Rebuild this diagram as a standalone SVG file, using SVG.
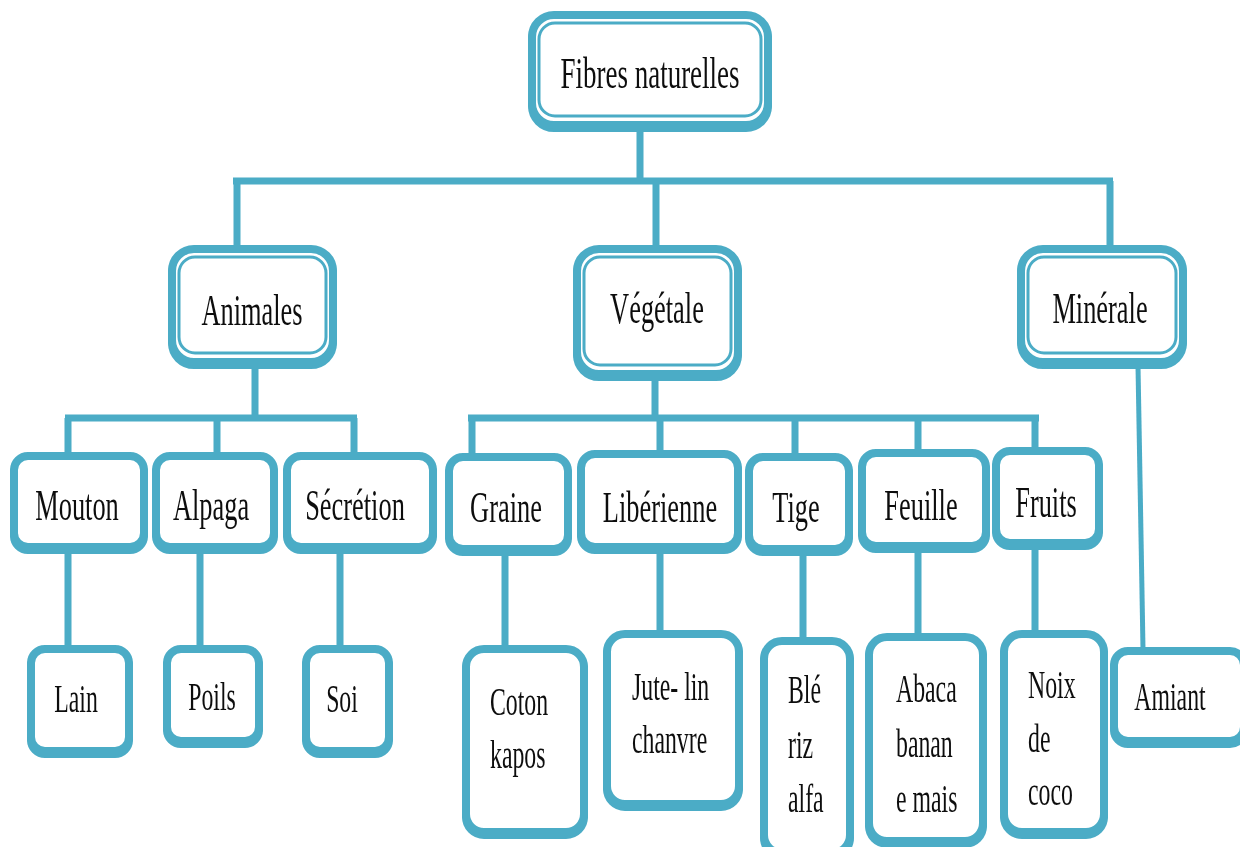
<svg xmlns="http://www.w3.org/2000/svg" width="1240" height="847" viewBox="0 0 1240 847">
<style>
.bx{fill:#fff;stroke:#4BACC6;stroke-width:8}
.ob{fill:#fff;stroke:#4BACC6;stroke-width:8}
.ib{fill:none;stroke:#4BACC6;stroke-width:3}
.ln{fill:none;stroke:#4BACC6;stroke-width:7;stroke-linecap:butt}
.ln2{fill:none;stroke:#4BACC6;stroke-width:5}
text{font-family:"Liberation Serif","Times New Roman",serif;fill:#111}
.t1{font-size:45px;text-anchor:middle}
.t2{font-size:44px;text-anchor:middle}
.t3{font-size:41px;text-anchor:middle}
.t3l{font-size:41px;text-anchor:start}
</style>
<defs>
<filter id="sh" x="-10%" y="-10%" width="120%" height="130%">
<feOffset in="SourceGraphic" dx="0" dy="3" result="o"/>
<feMerge><feMergeNode in="o"/><feMergeNode in="SourceGraphic"/></feMerge>
</filter>
</defs>

<g id="connectors">
<path class="ln" d="M640 128V181M233 181H1113M237 181V247M656 181V247M1110 181V247"/>
<path class="ln" d="M255 366V418M65 418H357M68 418V454M217 418V454M354 418V454"/>
<path class="ln" d="M655 378V418M468 418H1039M472 418V455M660 418V452M795 418V455M918 418V451M1035 418V449"/>
<path class="ln2" d="M1138 366L1143 649"/>
<path class="ln" d="M68 551V647M200 551V647M340 551V647M505 553V647M660 551V632M803 553V639M918 550V635M1035 546V632"/>
</g>

<g id="root" filter="url(#sh)">
<rect class="ob" x="532" y="15" width="236" height="110" rx="22"/>
<rect class="ib" x="539" y="23" width="222" height="93" rx="16"/>
<text class="t1" transform="translate(650,88) scale(0.6,1)">Fibres naturelles</text>
</g>

<g id="animales" filter="url(#sh)">
<rect class="ob" x="172" y="249" width="161" height="113" rx="22"/>
<rect class="ib" x="179" y="257" width="147" height="96" rx="16"/>
<text class="t2" transform="translate(252,325) scale(0.6,1)">Animales</text>
</g>
<g id="vegetale" filter="url(#sh)">
<rect class="ob" x="577" y="249" width="161" height="125" rx="22"/>
<rect class="ib" x="584" y="257" width="147" height="108" rx="16"/>
<text class="t2" transform="translate(657,323) scale(0.6,1)">Végétale</text>
</g>
<g id="minerale" filter="url(#sh)">
<rect class="ob" x="1021" y="249" width="162" height="113" rx="22"/>
<rect class="ib" x="1028" y="257" width="148" height="96" rx="16"/>
<text class="t2" transform="translate(1100,323) scale(0.6,1)">Minérale</text>
</g>

<g id="mouton" filter="url(#sh)">
<rect class="bx" x="14" y="456" width="130" height="91" rx="14"/>
<text class="t2" transform="translate(77,520) scale(0.6,1)">Mouton</text>
</g>
<g id="alpaga" filter="url(#sh)">
<rect class="bx" x="156" y="456" width="118" height="91" rx="14"/>
<text class="t2" transform="translate(211,520) scale(0.6,1)">Alpaga</text>
</g>
<g id="secretion" filter="url(#sh)">
<rect class="bx" x="287" y="456" width="146" height="91" rx="14"/>
<text class="t2" transform="translate(355,520) scale(0.6,1)">Sécrétion</text>
</g>
<g id="graine" filter="url(#sh)">
<rect class="bx" x="449" y="457" width="119" height="92" rx="14"/>
<text class="t2" transform="translate(506,522) scale(0.6,1)">Graine</text>
</g>
<g id="liberienne" filter="url(#sh)">
<rect class="bx" x="581" y="454" width="157" height="93" rx="14"/>
<text class="t2" transform="translate(660,522) scale(0.6,1)">Libérienne</text>
</g>
<g id="tige" filter="url(#sh)">
<rect class="bx" x="749" y="457" width="100" height="92" rx="14"/>
<text class="t2" transform="translate(796,522) scale(0.6,1)">Tige</text>
</g>
<g id="feuille" filter="url(#sh)">
<rect class="bx" x="862" y="453" width="124" height="93" rx="14"/>
<text class="t2" transform="translate(921,520) scale(0.6,1)">Feuille</text>
</g>
<g id="fruits" filter="url(#sh)">
<rect class="bx" x="996" y="451" width="103" height="92" rx="14"/>
<text class="t2" transform="translate(1046,517) scale(0.6,1)">Fruits</text>
</g>

<g id="lain" filter="url(#sh)">
<rect class="bx" x="31" y="649" width="98" height="102" rx="14"/>
<text class="t3" transform="translate(76,712) scale(0.58,1)">Lain</text>
</g>
<g id="poils" filter="url(#sh)">
<rect class="bx" x="167" y="649" width="92" height="92" rx="14"/>
<text class="t3" transform="translate(212,710) scale(0.58,1)">Poils</text>
</g>
<g id="soi" filter="url(#sh)">
<rect class="bx" x="306" y="649" width="83" height="102" rx="14"/>
<text class="t3" transform="translate(342,712) scale(0.58,1)">Soi</text>
</g>
<g id="coton" filter="url(#sh)">
<rect class="bx" x="466" y="649" width="118" height="183" rx="18"/>
<text class="t3l" transform="translate(490,715) scale(0.58,1)"><tspan x="0" y="0">Coton</tspan><tspan x="0" y="53">kapos</tspan></text>
</g>
<g id="jute" filter="url(#sh)">
<rect class="bx" x="607" y="634" width="132" height="170" rx="18"/>
<text class="t3l" transform="translate(632,700) scale(0.58,1)"><tspan x="0" y="0">Jute- lin</tspan><tspan x="0" y="53">chanvre</tspan></text>
</g>
<g id="ble" filter="url(#sh)">
<rect class="bx" x="764" y="641" width="86" height="212" rx="18"/>
<text class="t3l" transform="translate(788,703) scale(0.58,1)"><tspan x="0" y="0">Blé</tspan><tspan x="0" y="55">riz</tspan><tspan x="0" y="109">alfa</tspan></text>
</g>
<g id="abaca" filter="url(#sh)">
<rect class="bx" x="869" y="637" width="114" height="204" rx="18"/>
<text class="t3l" transform="translate(896,702) scale(0.58,1)"><tspan x="0" y="0">Abaca</tspan><tspan x="0" y="55">banan</tspan><tspan x="0" y="110">e mais</tspan></text>
</g>
<g id="noix" filter="url(#sh)">
<rect class="bx" x="1004" y="634" width="100" height="198" rx="18"/>
<text class="t3l" transform="translate(1028,698) scale(0.58,1)"><tspan x="0" y="0">Noix</tspan><tspan x="0" y="54">de</tspan><tspan x="0" y="107">coco</tspan></text>
</g>
<g id="amiant" filter="url(#sh)">
<rect class="bx" x="1114" y="651" width="130" height="90" rx="14"/>
<text class="t3" transform="translate(1170,710) scale(0.58,1)">Amiant</text>
</g>
</svg>
